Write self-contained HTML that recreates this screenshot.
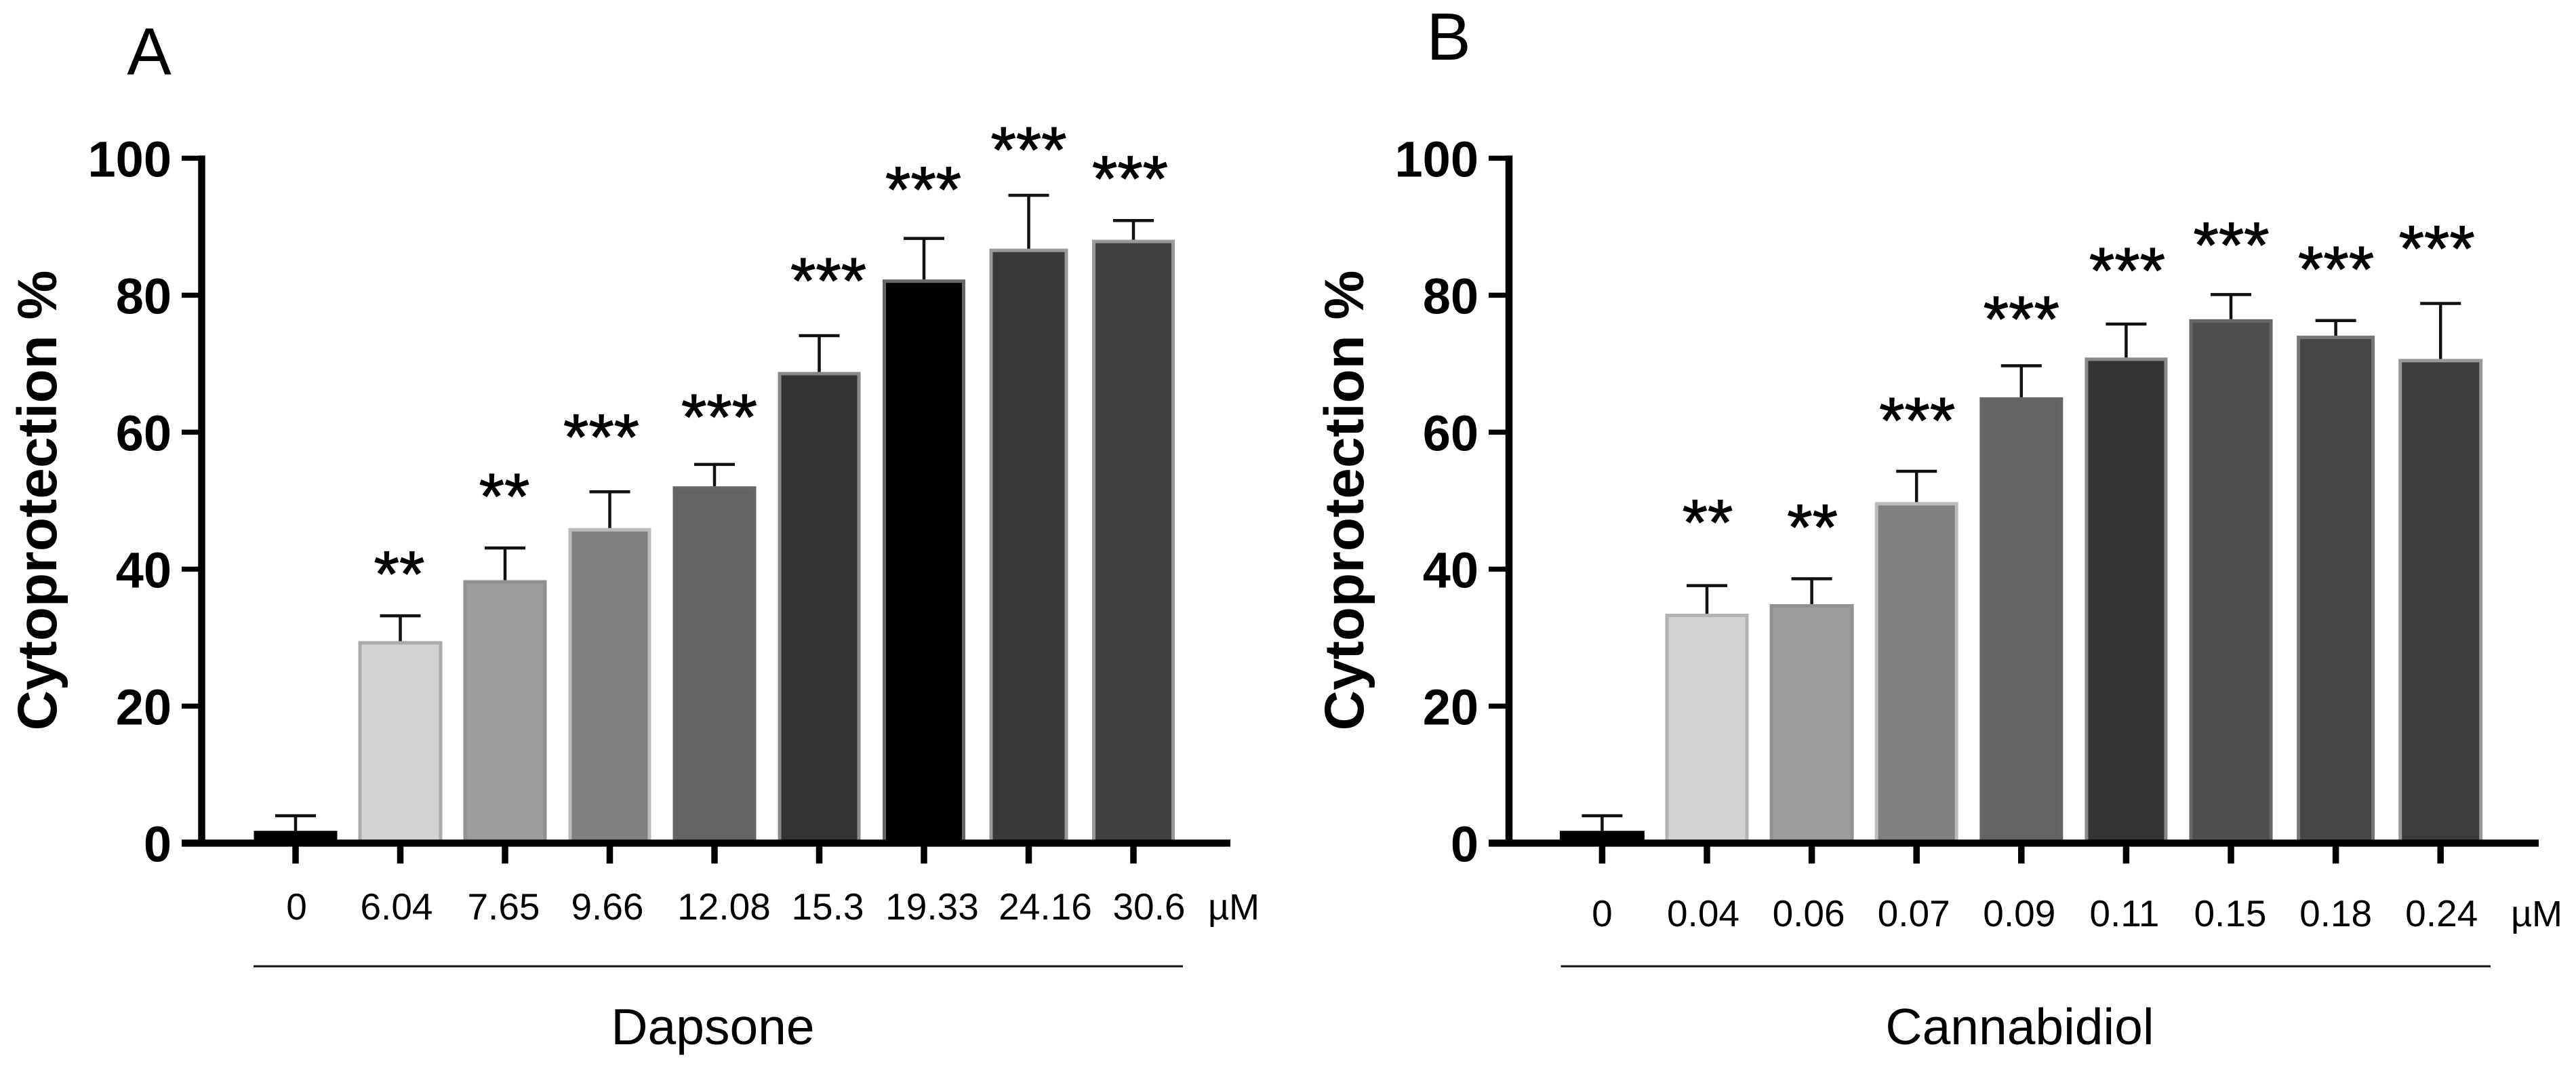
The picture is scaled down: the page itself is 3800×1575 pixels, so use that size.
<!DOCTYPE html>
<html>
<head>
<meta charset="utf-8">
<title>Cytoprotection of Dapsone and Cannabidiol</title>
<style>
html,body{margin:0;padding:0;background:#fff}
svg{display:block}
text{font-family:"Liberation Sans",Arial,sans-serif;fill:#000}
</style>
</head>
<body>
<svg id="chart" xmlns="http://www.w3.org/2000/svg" width="3800" height="1575" viewBox="0 0 3800 1575">
<rect width="3800" height="1575" fill="#fff"/>
<text x="220" y="110" font-size="98" text-anchor="middle">A</text>
<text x="2137" y="88" font-size="98" text-anchor="middle">B</text>
<text transform="translate(83,738) rotate(-90)" font-size="82" font-weight="700" text-anchor="middle">Cytoprotection %</text>
<text transform="translate(2011,738) rotate(-90)" font-size="82" font-weight="700" text-anchor="middle">Cytoprotection %</text>
<text x="1051.5" y="1540" font-size="75" text-anchor="middle">Dapsone</text>
<text x="2979.5" y="1540" font-size="75" text-anchor="middle">Cannabidiol</text>
<text x="1820" y="1356" font-size="54" text-anchor="middle">µM</text>
<text x="3742" y="1366" font-size="54" text-anchor="middle">µM</text>
</svg>
<script>
var yTicks = [0, 20, 40, 60, 80, 100];
var yTickLabels = ['0', '20', '40', '60', '80', '100'];

var categoriesA = ['0', '6.04', '7.65', '9.66', '12.08', '15.3', '19.33', '24.16', '30.6'];
var valuesA = [1.8, 29.5, 38.4, 46.0, 52.1, 68.8, 82.3, 86.8, 88.1];
var errorsA = [2.2, 3.7, 4.7, 5.3, 3.2, 5.3, 6.0, 7.8, 2.8];
var starsA = ['', '**', '**', '***', '***', '***', '***', '***', '***'];

var categoriesB = ['0', '0.04', '0.06', '0.07', '0.09', '0.11', '0.15', '0.18', '0.24'];
var valuesB = [1.8, 33.5, 34.9, 49.8, 65.1, 70.9, 76.5, 74.1, 70.7];
var errorsB = [2.2, 4.1, 3.7, 4.5, 4.6, 4.9, 3.6, 2.2, 8.1];
var starsB = ['', '**', '**', '***', '***', '***', '***', '***', '***'];

var svg = document.getElementById('chart');
var NS = 'http://www.w3.org/2000/svg';
var Y0 = 1243.4, PX_PER_UNIT = 10.1;
function yScale(v) { return Y0 - v * PX_PER_UNIT; }

function make(tag, attrs, parent) {
  var el = document.createElementNS(NS, tag);
  for (var k in attrs) el.setAttribute(k, attrs[k]);
  parent.appendChild(el);
  return el;
}

function drawPanel(p) {
  var xScale = function (i) { return p.x0 + p.step * i; };
  var g = make('g', {}, svg);
  
  

  p.values.forEach(function (v, i) {
    var cx = xScale(i), w = p.barW[i], sw = p.strokeW;
    var top = yScale(v);
    var bar = make('rect', {
      x: cx - w / 2 + sw / 2, y: top + sw / 2,
      width: w - sw, height: Math.max(Y0 - top, sw),
      fill: p.fills[i], stroke: p.strokes[i], 'stroke-width': sw
    }, g);
    
    

    var capY = yScale(v + p.errors[i]);
    var stem = make('line', {
      x1: cx, x2: cx, y1: top, y2: capY, stroke: '#111', 'stroke-width': 4.5
    }, g);
    
    
    var cap = make('line', {
      x1: cx - 30, x2: cx + 30, y1: capY, y2: capY, stroke: '#111', 'stroke-width': 4.5
    }, g);
    
    

    if (p.stars[i]) {
      var star = make('text', {
        x: cx + p.starDx[i], y: capY - p.starGap[i] * PX_PER_UNIT + 47,
        'font-size': 96, 'text-anchor': 'middle', stroke: '#000', 'stroke-width': 1.2
      }, g);
      star.textContent = p.stars[i];
      
      
    }

    var tick = make('line', {
      x1: cx, x2: cx, y1: Y0, y2: 1273.5, stroke: '#000', 'stroke-width': 9.5
    }, g);
    
    

    var lab = make('text', {
      x: cx + p.labelDx[i], y: p.labelY, 'font-size': 55, 'text-anchor': 'middle'
    }, g);
    lab.textContent = p.categories[i];
    
    
  });

  var yAxis = make('line', {
    x1: p.axisX, x2: p.axisX, y1: yScale(100) - 4, y2: Y0, stroke: '#000', 'stroke-width': 10.5
  }, g);
  
  

  var xAxis = make('line', {
    x1: p.tickLeft, x2: p.axisEnd, y1: Y0, y2: Y0, stroke: '#000', 'stroke-width': 10.5
  }, g);
  
  

  yTicks.forEach(function (t, i) {
    var ty = yScale(t);
    var tk = make('line', {
      x1: p.tickLeft, x2: p.axisX, y1: ty, y2: ty, stroke: '#000', 'stroke-width': 7.5
    }, g);
    
    
    var tl = make('text', {
      x: p.tickLeft - 15, y: ty + 27, 'font-size': 74, 'font-weight': 700, 'text-anchor': 'end'
    }, g);
    tl.textContent = yTickLabels[i];
    
    
  });

  var rule = make('line', {
    x1: p.ruleX1, x2: p.ruleX2, y1: 1425, y2: 1425, stroke: '#111', 'stroke-width': 3
  }, g);
  
  
}

drawPanel({
  id: 'panel-a', x0: 436, step: 154.5, axisX: 297.5, tickLeft: 268, axisEnd: 1815,
  ruleX1: 374, ruleX2: 1745, labelY: 1356, strokeW: 5,
  categories: categoriesA, values: valuesA, errors: errorsA, stars: starsA,
  barW: [123, 124, 123, 122, 123, 122, 122, 116, 122],
  fills: ['#000', '#d2d2d2', '#9d9da0', '#808080', '#636363', '#333', '#000', '#3a3a3a', '#404040'],
  strokes: ['#000', '#aaa', '#909090', '#bbb', '#666', '#888', '#666', '#999', '#999'],
  starGap: [0, 7.5, 8.9, 9.4, 8.3, 9.4, 8.5, 8.0, 7.5],
  starDx: [0, -1.5, -1, -12.5, 7, 13.5, -1, 0, -5],
  labelDx: [1.5, -5.5, -2, -3.5, 14, 12.5, 12, 24.5, 23]
});

drawPanel({
  id: 'panel-b', x0: 2363.4, step: 154.6, axisX: 2226, tickLeft: 2196, axisEnd: 3745,
  ruleX1: 2302.5, ruleX2: 3674, labelY: 1366, strokeW: 5,
  categories: categoriesB, values: valuesB, errors: errorsB, stars: starsB,
  barW: [125, 123, 124, 123, 123, 122, 123, 115, 124],
  fills: ['#000', '#d2d2d2', '#9d9da0', '#808080', '#636363', '#333', '#4f4f4f', '#464646', '#3c3c3c'],
  strokes: ['#000', '#b4b4b4', '#909090', '#bbb', '#666', '#888', '#666', '#777', '#999'],
  starGap: [0, 10.6, 8.9, 8.8, 8.2, 9.2, 8.6, 8.9, 9.4],
  starDx: [0, 1, 1, 1, 0, 1.5, 0.5, 0.5, -5.5],
  labelDx: [0, -5.5, -4.5, -4, -3, -2.5, -1, 0, 1.5]
});
</script>
</body>
</html>
